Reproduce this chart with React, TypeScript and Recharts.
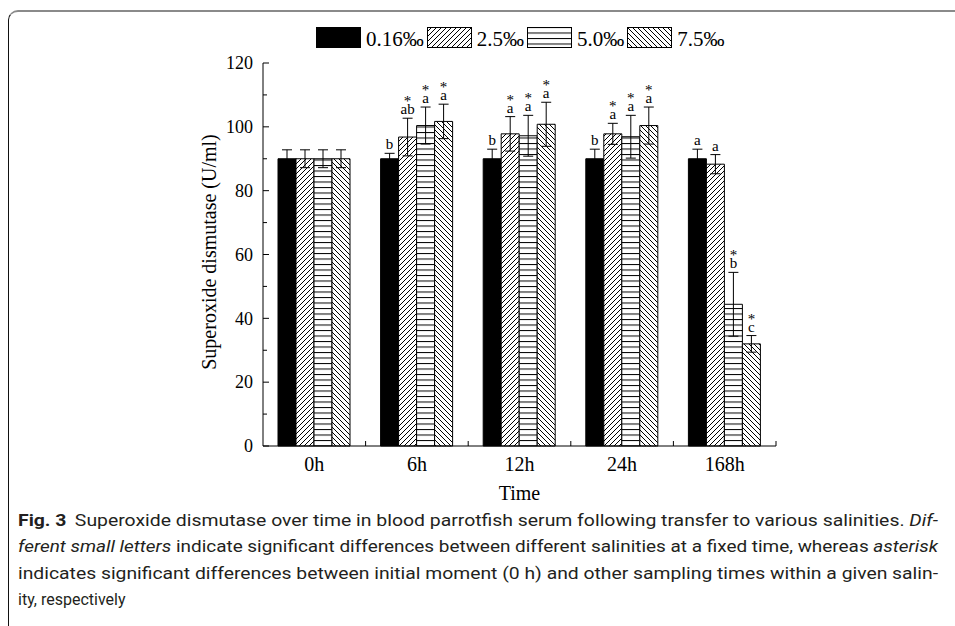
import React from 'react'
import { BarChart, Bar, XAxis, YAxis, ErrorBar } from 'recharts'

const TIMES = ['0h', '6h', '12h', '24h', '168h']
const SERIES = ['0.16‰', '2.5‰', '5.0‰', '7.5‰']

// SOD (U/ml) por salinidade
const SOD_016 = [90, 90, 90, 90, 90]
const SOD_25 = [90, 96.8, 97.8, 97.8, 88.3]
const SOD_50 = [90, 100.4, 97.2, 96.9, 44.4]
const SOD_75 = [90, 101.7, 100.8, 100.4, 32]

// desvio
const ERR_016 = [2.8, 1.7, 3, 3, 3]
const ERR_25 = [2.8, 5.9, 5.4, 3.3, 3]
const ERR_50 = [2.8, 5.8, 6.4, 6.7, 10]
const ERR_75 = [2.8, 5.4, 6.9, 5.8, 2.6]

// letras + asterisco
const LET_016 = ['', 'b', 'b', 'b', 'a']
const LET_25 = ['', 'ab', 'a', 'a', 'a']
const LET_50 = ['', 'a', 'a', 'a', 'b']
const LET_75 = ['', 'a', 'a', 'a', 'c']
const STAR_016 = [false, false, false, false, false]
const STAR_25 = [false, true, true, true, false]
const STAR_50 = [false, true, true, true, true]
const STAR_75 = [false, true, true, true, true]

const Y_TICKS = [0, 10, 20, 30, 40, 50, 60, 70, 80, 90, 100, 110, 120]

const data = TIMES.map((t, i) => ({
  time: t,
  s016: SOD_016[i], e016: ERR_016[i],
  s25: SOD_25[i], e25: ERR_25[i],
  s50: SOD_50[i], e50: ERR_50[i],
  s75: SOD_75[i], e75: ERR_75[i],
}))

const SERIF = '"Liberation Serif", "Times New Roman", serif'
const SANS = 'Roboto, "Noto Sans", sans-serif'
const W = 955
const H = 626
const M = { top: 63, right: 179, left: 203, bottom: 140 }
const Y_W = 60
const HALF_BAND = (W - M.left - Y_W - M.right) / TIMES.length / 2

const Patterns = ({ p }: { p: string }) => (
  <defs>
    <pattern id={`${p}fwd`} patternUnits="userSpaceOnUse" width={5} height={5}>
      <rect width={5} height={5} fill="#fff" />
      <path d="M-1,1 l2,-2 M0,5 l5,-5 M4,6 l2,-2" stroke="#000" strokeWidth={1} />
    </pattern>
    <pattern id={`${p}hor`} patternUnits="userSpaceOnUse" width={6} height={5.5}>
      <rect width={6} height={5.5} fill="#fff" />
      <line x1={0} x2={6} y1={0.5} y2={0.5} stroke="#000" strokeWidth={1} />
    </pattern>
    <pattern id={`${p}back`} patternUnits="userSpaceOnUse" width={5} height={5}>
      <rect width={5} height={5} fill="#fff" />
      <path d="M-1,4 l2,2 M0,0 l5,5 M4,-1 l2,2" stroke="#000" strokeWidth={1} />
    </pattern>
  </defs>
)

const FILLS = ['#000', 'fwd', 'hor', 'back']

const YTick = (p: any) => {
  const { x, y, payload } = p
  const v = payload.value
  const major = v % 20 === 0
  return (
    <g>
      <line x1={x} x2={x + (major ? 6 : 4)} y1={y} y2={y} stroke="#000" />
      {major && (
        <text x={x - 10} y={y} dy="0.35em" textAnchor="end" fontSize={18} fontFamily={SERIF} fill="#000">
          {v}
        </text>
      )}
    </g>
  )
}

const XTick = (p: any) => {
  const { x, y, payload } = p
  return (
    <g>
      <line x1={x + HALF_BAND} x2={x + HALF_BAND} y1={y} y2={y - 5} stroke="#000" />
      <text x={x} y={y + 25} textAnchor="middle" fontSize={20} fontFamily={SERIF} fill="#000">
        {payload.value}
      </text>
    </g>
  )
}

const annot = (letters: string[], stars: boolean[], errs: number[]) => (p: any) => {
  const { x, y, width, height, value, index } = p
  const txt = letters[index]
  if (!txt) return null
  const capY = y - (errs[index] / value) * height
  const cx = x + width / 2
  return (
    <g fontFamily={SERIF} fontSize={15} fill="#000" stroke="none" textAnchor="middle">
      <text x={cx} y={capY - 4}>{txt}</text>
      {stars[index] && <text x={cx} y={capY - 12}>*</text>}
    </g>
  )
}

const Swatch = ({ i }: { i: number }) => (
  <svg width={45} height={21} style={{ display: 'block' }}>
    <Patterns p="lg" />
    <rect x={0.5} y={0.5} width={44} height={20}
      fill={i === 0 ? '#000' : `url(#lg${FILLS[i]})`} stroke="#000" />
  </svg>
)

export default function App() {
  return (
    <div style={{ position: 'absolute', left: 0, top: 0, width: W, height: H, background: '#fff', overflow: 'hidden', fontFamily: SERIF }}>
      <div style={{ position: 'absolute', left: 8, top: 10, width: 1000, height: 700, borderTop: '2px solid #8a8a8a', borderLeft: '1px solid #111', borderTopLeftRadius: 10 }} />

      {/* legenda */}
      <div style={{ position: 'absolute', left: 316, top: 27, display: 'flex', alignItems: 'center', height: 21 }}>
        {SERIES.map((s, i) => (
          <React.Fragment key={s}>
            <Swatch i={i} />
            <span style={{ fontSize: 21, lineHeight: '21px', marginLeft: 5, marginRight: 3, position: 'relative', top: 2 }}>{s}</span>
          </React.Fragment>
        ))}
      </div>

      <div style={{ position: 'absolute', left: 0, top: 0 }}>
        <BarChart width={W} height={H} data={data} margin={M} barSize={18} barGap={0}>
          <Patterns p="ch" />
          <XAxis dataKey="time" stroke="#000" tickLine={false} tickSize={0} tickMargin={0} height={40} interval={0} tick={XTick} />
          <YAxis domain={[0, 120]} ticks={Y_TICKS} interval={0} stroke="#000" tickLine={false} tickSize={0} tickMargin={0} width={Y_W} tick={YTick} />
          <Bar dataKey="s016" fill="#000" stroke="#000" isAnimationActive={false} label={annot(LET_016, STAR_016, ERR_016)}>
            <ErrorBar dataKey="e016" width={5} stroke="#000" strokeWidth={1} />
          </Bar>
          <Bar dataKey="s25" fill="url(#chfwd)" stroke="#000" isAnimationActive={false} label={annot(LET_25, STAR_25, ERR_25)}>
            <ErrorBar dataKey="e25" width={5} stroke="#000" strokeWidth={1} />
          </Bar>
          <Bar dataKey="s50" fill="url(#chhor)" stroke="#000" isAnimationActive={false} label={annot(LET_50, STAR_50, ERR_50)}>
            <ErrorBar dataKey="e50" width={5} stroke="#000" strokeWidth={1} />
          </Bar>
          <Bar dataKey="s75" fill="url(#chback)" stroke="#000" isAnimationActive={false} label={annot(LET_75, STAR_75, ERR_75)}>
            <ErrorBar dataKey="e75" width={5} stroke="#000" strokeWidth={1} />
          </Bar>
        </BarChart>
      </div>

      <svg width={W} height={H} style={{ position: 'absolute', left: 0, top: 0, pointerEvents: 'none' }}>
        <text transform="translate(216,252) rotate(-90)" textAnchor="middle" fontSize={20} fontFamily={SERIF} fill="#000">
          Superoxide dismutase (U/ml)
        </text>
        <text x={519.5} y={500} textAnchor="middle" fontSize={20} fontFamily={SERIF} fill="#000">Time</text>

        {/* legenda da figura, linhas justificadas */}
        <g fontFamily={SANS} fontSize={16} fill="#231f20">
          <text x={18} y={526} textLength={920} lengthAdjust="spacingAndGlyphs">
            <tspan fontWeight="bold">Fig. 3</tspan>
            <tspan dx={7}>Superoxide dismutase over time in blood parrotfish serum following transfer to various salinities. </tspan>
            <tspan fontStyle="italic">Dif-</tspan>
          </text>
          <text x={18} y={552} textLength={920} lengthAdjust="spacingAndGlyphs">
            <tspan fontStyle="italic">ferent small letters</tspan>{' indicate significant differences between different salinities at a fixed time, whereas '}<tspan fontStyle="italic">asterisk</tspan>
          </text>
          <text x={18} y={579} textLength={920} lengthAdjust="spacingAndGlyphs">
            indicates significant differences between initial moment (0 h) and other sampling times within a given salin-
          </text>
          <text x={18} y={605}>ity, respectively</text>
        </g>
      </svg>
    </div>
  )
}
